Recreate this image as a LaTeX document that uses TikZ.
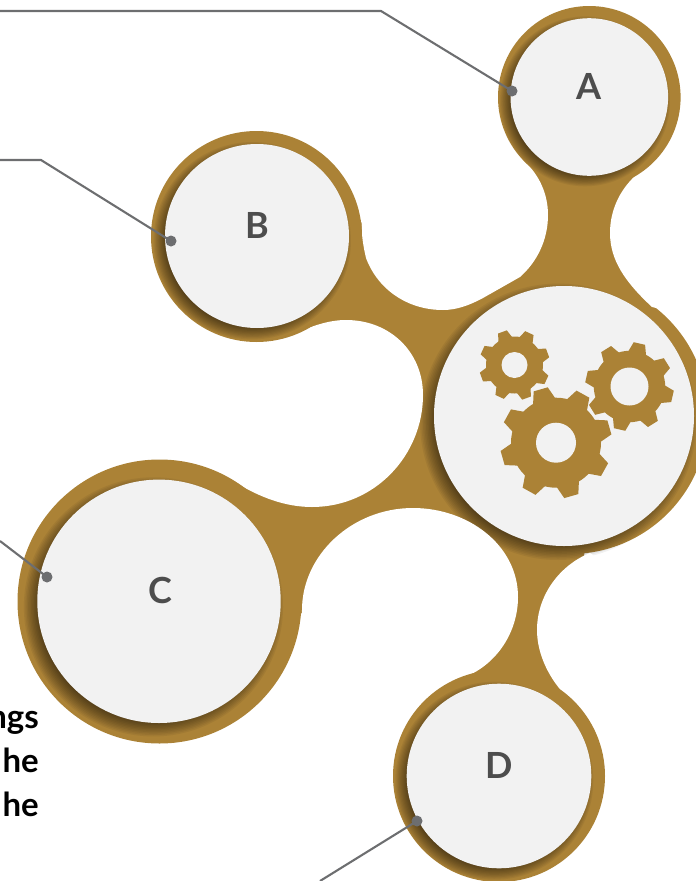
\documentclass[tikz,border=0pt]{standalone}
\usepackage{fontspec}
\setmainfont{Lato}
\definecolor{gold}{HTML}{AB8236}
\definecolor{disc}{HTML}{F2F2F2}
\definecolor{leader}{HTML}{6D6E70}
\definecolor{lett}{HTML}{4D4D4D}
\tikzset{
  goldfill/.style={fill=gold,draw=none},
  cut/.style={fill=white,draw=none},
  discfill/.style={fill=disc,draw=none},
  leaderline/.style={draw=leader,line width=2.1pt},
  dot/.style={circle,fill=leader,inner sep=0pt,minimum size=11pt},
  letter/.style={font=\fontsize{36}{36}\selectfont\bfseries,text=lett,anchor=base},
  sidetext/.style={font=\fontsize{33}{33}\selectfont\bfseries,text=black,anchor=base east,inner sep=0pt},
}
% x y radius: soft shadow down-left of a disc
\newcommand{\softshade}[3]{%
  \pgfmathsetmacro{\dd}{0.04*#3+3}
  \foreach \k in {0,...,11}{
    \fill[black,opacity=0.055] ({#1-0.707*\dd},{#2+0.707*\dd}) circle ({#3+\dd-\k*2*\dd/11});
  }
}
% x y rootradius tipradius holeradius baseangle
\newcommand{\gearwheel}[6]{%
  \begin{scope}[shift={(#1,#2)}]
    \fill[gold] (0,0) circle (#3);
    \foreach \t in {0,...,7}{
      \pgfmathsetmacro{\a}{-(#6+45*\t)}
      \fill[gold] (\a-15:#3-0.5) -- (\a-7.5:#4) -- (\a+7.5:#4) -- (\a+15:#3-0.5) -- cycle;
    }
    \fill[disc] (0,0) circle (#5);
  \end{scope}
}
\begin{document}
\begin{tikzpicture}[x=1pt,y=-1pt]
\useasboundingbox (0,0) rectangle (696,881);
% gold body between the discs
\fill[goldfill] (589,97) -- (650,163) -- (655,310) -- (570,416) -- (585,548) -- (567,700) -- (499,776)
  -- (460,690) -- (295,610) -- (160,601) -- (240,490) -- (295,333) -- (257,236) -- (355,225) -- (525,160) -- cycle;
% central ring and shadow
\fill[goldfill] (570,416) circle (138);
\softshade{564}{416}{130}
% white bays
\fill[cut] (523,160) .. controls (540,175) and (548,195) .. (548,215)
  .. controls (548,240) and (537,262) .. (520,277)
  -- (483,298)
  .. controls (470,305) and (457,310) .. (443,310)
  .. controls (408,310) and (378,290) .. (366,258)
  .. controls (363,245) and (361.5,235) .. (361.5,222)
  -- (361.5,190) -- (470,120) -- cycle;
\fill[cut] (656,160) -- (635,176) .. controls (620,190) and (610,210) .. (610,233)
  .. controls (610,260) and (625,282) .. (652,307)
  -- (665,310) -- (720,340) -- (720,150) -- cycle;
\fill[cut] (590,553) .. controls (560,565) and (537,595) .. (537,630)
  .. controls (537,655) and (550,680) .. (567,697)
  -- (590,720) -- (720,720) -- (720,540) -- (600,560) -- cycle;
\fill[cut] (238,484) .. controls (260,497) and (285,507) .. (312,507)
  .. controls (375,507) and (423,455) .. (423,395)
  .. controls (423,352) and (390,320) .. (346,320)
  .. controls (330,320) and (315,325) .. (295,333) -- (240,440) -- cycle;
\fill[cut] (465,677) .. controls (497,664) and (518,632) .. (518,597)
  .. controls (518,545) and (468,508) .. (413,508)
  .. controls (352,508) and (302,555) .. (302,610)
  -- (300,690) -- (465,700) -- cycle;
% satellite rings with shadows
\foreach \x/\y/\ro/\cx/\cy/\ri in {589.3/97.3/91.3/589.3/97/78.8, 256.5/236.5/105.5/257/236/92, 159.5/601.5/142/159/601.3/121.7, 499/776/106/499/776/92.3}{
  \fill[goldfill] (\x,\y) circle (\ro);
  \begin{scope}
    \clip (\x,\y) circle (\ro);
    \softshade{\cx}{\cy}{\ri}
  \end{scope}
  \fill[discfill] (\cx,\cy) circle (\ri);
}
\fill[discfill] (564,416) circle (130);
% gears
\gearwheel{514.5}{365}{28.5}{35.5}{13}{20}
\gearwheel{629.5}{386.5}{35.7}{44.5}{19}{32}
\gearwheel{556}{442.7}{45}{56}{20}{16}
% leaders
\coordinate (la0) at (0,11);
\coordinate (la1) at (381,11);
\coordinate (lb0) at (0,160);
\coordinate (lb1) at (41,160);
\coordinate (lc0) at (0,541);
\coordinate (ld0) at (320,881);
\node[dot] (da) at (512,91) {};
\node[dot] (db) at (171,241) {};
\node[dot] (dc) at (47,577) {};
\node[dot] (dd) at (417,821) {};
\draw[leaderline] (la0) -- (la1) -- (da.center);
\draw[leaderline] (lb0) -- (lb1) -- (db.center);
\draw[leaderline] (lc0) -- (dc.center);
\draw[leaderline] (ld0) -- (dd.center);
% letters
\node[letter] (ta) at (589,99) {A};
\node[letter] (tb) at (257,238) {B};
\node[letter] (tc) at (160,603) {C};
\node[letter] (td) at (499,778) {D};
% cut-off text at the left
\node[sidetext] (s1) at (39,728) {ngs};
\node[sidetext] (s2) at (39,772) {he};
\node[sidetext] (s3) at (39,816) {he};
\end{tikzpicture}
\end{document}
